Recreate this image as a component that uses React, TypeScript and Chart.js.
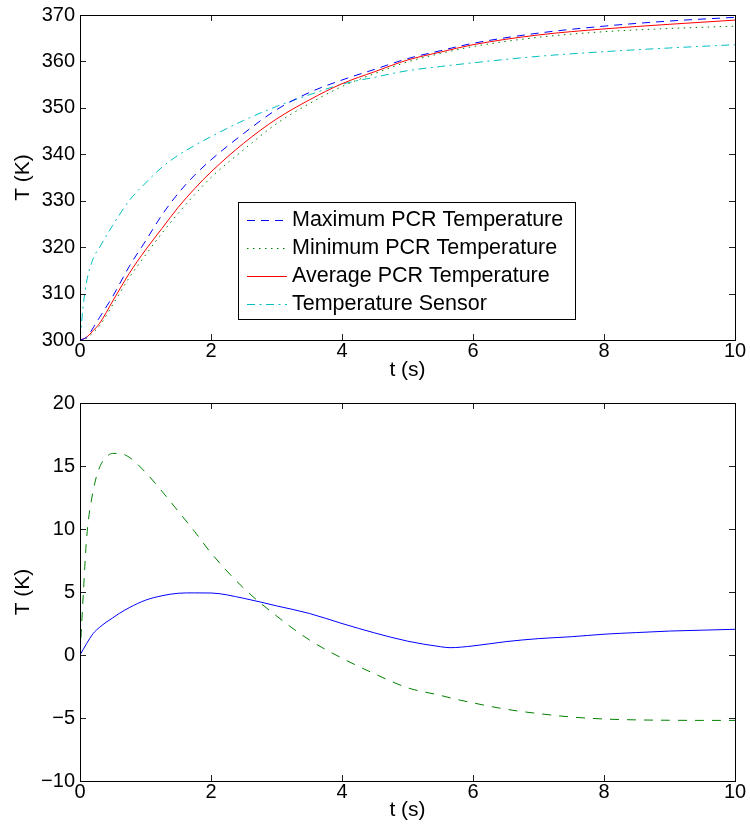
import React, { useEffect, useRef } from 'react';
import { Chart, registerables } from 'chart.js';

Chart.register(...registerables);

const FONT = '"Liberation Sans", Arial, Helvetica, sans-serif';

// ---------- Top panel data ----------
const tTop = [0, 0.05, 0.1, 0.2, 0.3, 0.5, 0.75, 1, 1.25, 1.5, 1.75, 2, 2.5, 3, 3.5, 4, 4.5, 5, 5.5, 6, 7, 8, 9, 10];
const maxPCR = [300, 300.2, 300.6, 302.6, 304.9, 309.4, 315.8, 321.3, 326.9, 331.6, 335.5, 338.8, 344.5, 349.6, 353.3, 356.0, 358.3, 360.6, 362.3, 363.9, 366.1, 367.6, 368.7, 369.5];
const minPCR = [300, 300.1, 300.4, 301.6, 303.1, 307.6, 313.4, 318.3, 323.0, 327.3, 331.3, 335.0, 341.0, 346.6, 350.9, 354.6, 357.4, 359.9, 361.7, 363.2, 365.2, 366.4, 367.1, 367.6];
const avgPCR = [300, 300.2, 300.6, 302.0, 303.6, 308.4, 314.3, 319.4, 324.0, 328.6, 332.6, 336.2, 342.4, 347.6, 351.7, 355.2, 357.8, 360.3, 362.0, 363.6, 365.7, 367.0, 368.0, 368.9];
const sensor = [300, 307.5, 312.5, 317.5, 320.0, 324.7, 330.0, 333.8, 337.2, 339.8, 341.9, 343.8, 347.3, 350.3, 352.8, 355.1, 356.6, 358.0, 358.9, 359.7, 361.1, 362.1, 362.9, 363.6];
const topLabels = ['Maximum PCR Temperature', 'Minimum PCR Temperature', 'Average PCR Temperature', 'Temperature Sensor'];
const topYTicks = { min: 300, max: 370, step: 10 };

// ---------- Bottom panel data ----------
const tBot = [0, 0.05, 0.1, 0.2, 0.3, 0.4, 0.5, 0.6, 0.75, 1, 1.25, 1.5, 1.75, 2, 2.5, 3, 3.5, 4, 4.5, 5, 5.5, 5.65, 6, 6.5, 7, 7.5, 8, 8.5, 9, 9.5, 10];
const diffBlue = [0, 0.45, 0.9, 1.7, 2.2, 2.6, 2.95, 3.3, 3.75, 4.35, 4.7, 4.9, 4.93, 4.92, 4.5, 3.9, 3.3, 2.5, 1.75, 1.1, 0.66, 0.58, 0.72, 1.06, 1.3, 1.45, 1.65, 1.78, 1.9, 1.97, 2.04];
const diffGreen = [0, 4.8, 9.2, 13, 14.9, 15.7, 16, 16, 15.7, 14.5, 13, 11.4, 9.8, 8.1, 5.3, 3.1, 1.2, -0.25, -1.5, -2.6, -3.2, -3.4, -3.8, -4.3, -4.65, -4.92, -5.08, -5.15, -5.18, -5.19, -5.19];
const botYTicks = { min: -10, max: 20, step: 5 };

const xTicks = { min: 0, max: 10, step: 2 };

const pts = (xs: number[], ys: number[]) => xs.map((x, i) => ({ x, y: ys[i] }));

const framePlugin = {
  id: 'frame',
  afterDraw(chart: any, _args: any, opts: any) {
    const { ctx, chartArea: a, scales } = chart;
    ctx.save();
    ctx.setLineDash([]);
    const L = 6;
    ctx.strokeStyle = '#222';
    ctx.lineWidth = 1;
    ctx.beginPath();
    scales.x.ticks.forEach((t: any) => {
      const p = Math.round(scales.x.getPixelForValue(t.value)) + 0.5;
      ctx.moveTo(p, a.bottom);
      ctx.lineTo(p, a.bottom - L);
      ctx.moveTo(p, a.top);
      ctx.lineTo(p, a.top + L);
    });
    scales.y.ticks.forEach((t: any) => {
      const p = Math.round(scales.y.getPixelForValue(t.value)) + 0.5;
      ctx.moveTo(a.left, p);
      ctx.lineTo(a.left + L, p);
      ctx.moveTo(a.right, p);
      ctx.lineTo(a.right - L, p);
    });
    ctx.stroke();
    ctx.strokeStyle = '#000';
    ctx.strokeRect(Math.round(a.left) + 0.5, Math.round(a.top) + 0.5, Math.round(a.right - a.left), Math.round(a.bottom - a.top));

    if (opts && opts.legend) {
      const lg = opts.legend;
      const x = a.left + lg.dx;
      const y = a.top + lg.dy;
      ctx.fillStyle = '#fff';
      ctx.fillRect(x, y, lg.w, lg.h);
      ctx.strokeStyle = '#000';
      ctx.lineWidth = 1;
      ctx.strokeRect(x + 0.5, y + 0.5, lg.w, lg.h);
      ctx.font = `21.5px ${FONT}`;
      ctx.textBaseline = 'middle';
      ctx.textAlign = 'left';
      chart.data.datasets.forEach((ds: any, i: number) => {
        const cy = Math.round(y + 18 + i * 28) + 0.5;
        ctx.beginPath();
        ctx.setLineDash(ds.borderDash || []);
        ctx.strokeStyle = ds.borderColor;
        ctx.lineWidth = 1;
        ctx.moveTo(x + 9, cy);
        ctx.lineTo(x + 49, cy);
        ctx.stroke();
        ctx.setLineDash([]);
        ctx.fillStyle = '#000';
        ctx.fillText(ds.label, x + 54, cy);
      });
    }
    ctx.restore();
  },
};

const minusFmt = (v: any) => String(v).replace('-', '\u2212');

function makeScales(yT: { min: number; max: number; step: number }, xH: number, xTitlePad: number) {
  return {
    x: {
      type: 'linear',
      min: xTicks.min,
      max: xTicks.max,
      grid: { display: false, drawTicks: false },
      border: { display: false },
      ticks: {
        stepSize: xTicks.step,
        padding: 1.5,
        color: '#000',
        maxRotation: 0,
        autoSkip: false,
        font: { family: FONT, size: 20, lineHeight: 1 },
        callback: minusFmt,
      },
      title: {
        display: true,
        text: 't (s)',
        color: '#000',
        font: { family: FONT, size: 21 },
        padding: { top: 0, bottom: xTitlePad },
      },
      afterFit: (s: any) => {
        s.height = xH;
      },
    },
    y: {
      type: 'linear',
      min: yT.min,
      max: yT.max,
      grid: { display: false, drawTicks: false },
      border: { display: false },
      ticks: {
        stepSize: yT.step,
        padding: 5,
        color: '#000',
        autoSkip: false,
        font: { family: FONT, size: 20, lineHeight: 1 },
        callback: minusFmt,
      },
      title: {
        display: true,
        text: 'T (K)',
        color: '#000',
        font: { family: FONT, size: 21 },
        padding: { top: 10.5, bottom: 0 },
      },
      afterFit: (s: any) => {
        s.width = 80;
      },
    },
  };
}

const lineDs = (label: string, data: any[], color: string, dash: number[]) => ({
  label,
  data,
  borderColor: color,
  backgroundColor: color,
  borderDash: dash,
  borderWidth: 1,
  pointRadius: 0,
  fill: false,
  cubicInterpolationMode: 'monotone',
});

export default function App() {
  const topRef = useRef<HTMLCanvasElement>(null);
  const botRef = useRef<HTMLCanvasElement>(null);

  useEffect(() => {
    const common = {
      responsive: false,
      maintainAspectRatio: false,
      animation: false,
      devicePixelRatio: 1,
      events: [],
    };
    const top = new Chart(topRef.current as HTMLCanvasElement, {
      type: 'line',
      data: {
        datasets: [
          lineDs(topLabels[0], pts(tTop, maxPCR), 'rgb(0,0,255)', [8, 6]),
          lineDs(topLabels[1], pts(tTop, minPCR), 'rgb(0,128,0)', [1.5, 4.5]),
          lineDs(topLabels[2], pts(tTop, avgPCR), 'rgb(255,0,0)', []),
          lineDs(topLabels[3], pts(tTop, sensor), 'rgb(0,191,191)', [8, 4.5, 2, 4.5]),
        ],
      },
      options: {
        ...common,
        layout: { padding: { top: 13, right: 15, left: 0, bottom: 0 } },
        scales: makeScales(topYTicks, 52, 8.9),
        plugins: {
          legend: { display: false },
          tooltip: { enabled: false },
          frame: { legend: { dx: 158, dy: 187, w: 337, h: 117 } },
        },
      } as any,
      plugins: [framePlugin],
    } as any);

    const bot = new Chart(botRef.current as HTMLCanvasElement, {
      type: 'line',
      data: {
        datasets: [
          lineDs('diff1', pts(tBot, diffBlue), 'rgb(0,0,255)', []),
          lineDs('diff2', pts(tBot, diffGreen), 'rgb(0,128,0)', [9, 8]),
        ],
      },
      options: {
        ...common,
        layout: { padding: { top: 14, right: 15, left: 0, bottom: 0 } },
        scales: makeScales(botYTicks, 55, 12.9),
        plugins: {
          legend: { display: false },
          tooltip: { enabled: false },
          frame: {},
        },
      } as any,
      plugins: [framePlugin],
    } as any);

    return () => {
      top.destroy();
      bot.destroy();
    };
  }, []);

  return (
    <div style={{ position: 'absolute', left: 0, top: 0, width: 750, height: 836, background: '#fff', overflow: 'hidden' }}>
      <canvas
        ref={topRef}
        width={750}
        height={392}
        style={{ position: 'absolute', left: 0, top: 0, width: 750, height: 392, display: 'block' }}
      />
      <canvas
        ref={botRef}
        width={750}
        height={448}
        style={{ position: 'absolute', left: 0, top: 388, width: 750, height: 448, display: 'block' }}
      />
    </div>
  );
}
